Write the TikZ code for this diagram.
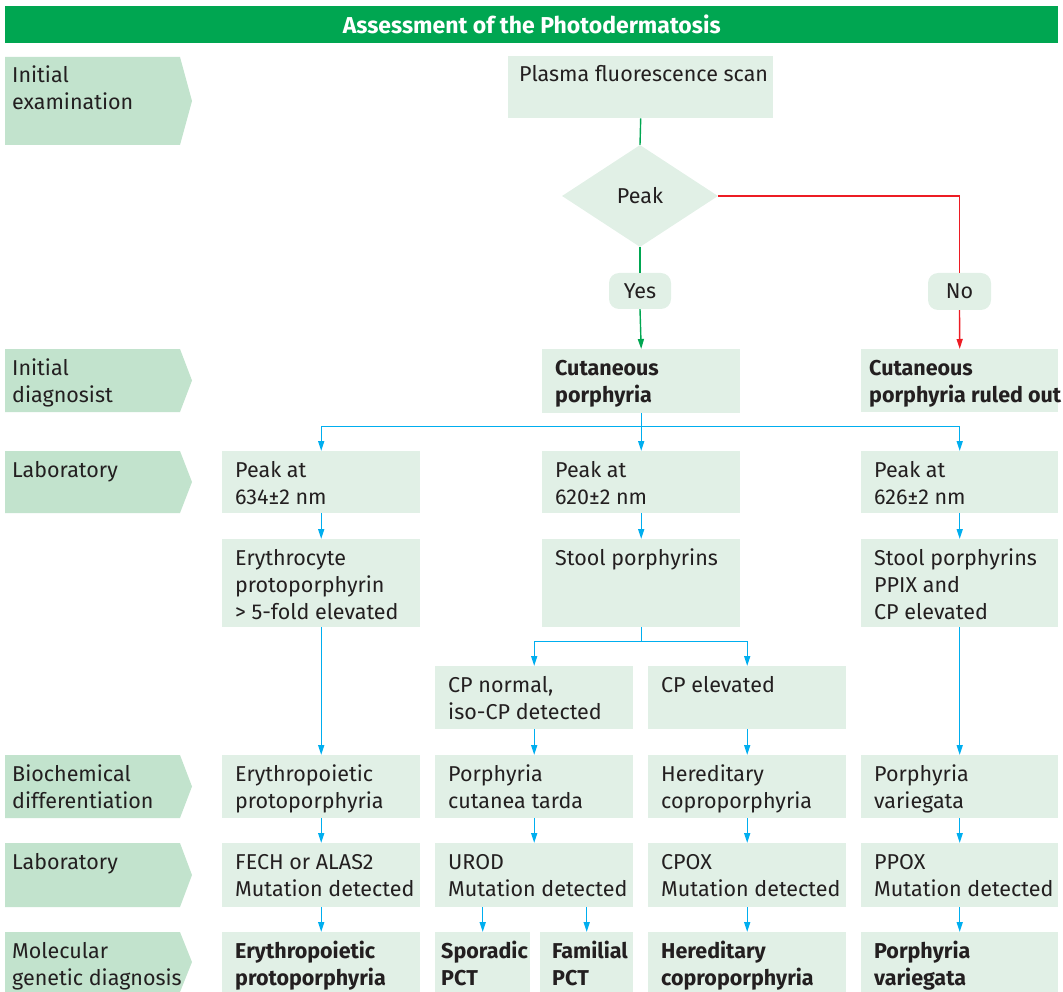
\documentclass[tikz,border=0pt]{standalone}
\usepackage{fontspec}
\setmainfont{Fira Sans}
\usetikzlibrary{arrows.meta,calc,shapes.geometric}

\definecolor{titlegreen}{HTML}{00A651}
\definecolor{stagefill}{HTML}{C2E3CD}
\definecolor{cellfill}{HTML}{E1F0E6}
\definecolor{ink}{HTML}{231F20}
\definecolor{nored}{HTML}{ED1C24}
\definecolor{flowblue}{HTML}{00AEEF}

\tikzset{
  body/.style={font=\fontsize{21.5}{27}\selectfont, text=ink},
  celltext/.style={body, inner sep=0pt, anchor=base west},
  cell/.style={fill=cellfill, draw=none, inner sep=0pt, anchor=north west},
  link/.style={line width=1.4pt},
  tip/.style={-{Triangle[length=10pt,width=6pt]}},
}

% left-aligned lines whose baseline is the first line
\newcommand\lines[1]{\begin{tabular}[t]{@{}l@{}}#1\end{tabular}}

% stage label on the left: name, top, bottom, text
\newcommand\stagelabel[4]{%
  \fill[stagefill] (5,#2) -- (180,#2) -- (192,{(#2+#3)/2}) -- (180,#3) -- (5,#3) -- cycle;
  \node[celltext] (#1) at (12,{#2+26}) {\lines{#4}};
}
% flow cell: [text inset] name, left, top, right, bottom, text
\newcommand\cellbox[7][13]{%
  \node[cell, minimum width={(#5-#3)*1pt}, minimum height={(#6-#4)*1pt}] (#2) at (#3,#4) {};
  \node[celltext] (#2-text) at ({#3+#1},{#4+26}) {\lines{#7}};
}

\begin{document}
\begin{tikzpicture}[x=1pt,y=-1pt]
\useasboundingbox (0,0) rectangle (1063,992);

% title bar
\node[fill=titlegreen, minimum width=1053pt, minimum height=37pt, anchor=north west,
      inner sep=0pt, text=white, font=\fontsize{23}{27}\selectfont\bfseries]
  (title) at (5,6) {Assessment of the Photodermatosis};

% stages
\stagelabel{st1}{57}{145}{Initial\\examination}
\stagelabel{st2}{349}{412}{Initial\\diagnosist}
\stagelabel{st3}{451}{513}{Laboratory}
\stagelabel{st4}{755}{818}{Biochemical\\differentiation}
\stagelabel{st5}{843}{907}{Laboratory}
\stagelabel{st6}{932}{992}{Molecular\\genetic diagnosis}

% initial examination
\cellbox[11]{plasma}{508}{56}{773}{118}{Plasma fluorescence scan}
\node[diamond, fill=cellfill, minimum width=156pt, minimum height=102pt, inner sep=0pt, body]
  (peak) at (640,196) {Peak};
\node[fill=cellfill, rounded corners=10pt, minimum width=62pt, minimum height=36pt,
      inner sep=0pt, body] (yes) at (640,291) {Yes};
\node[fill=cellfill, rounded corners=10pt, minimum width=63pt, minimum height=37pt,
      inner sep=0pt, body] (no) at (959.5,291.5) {No};

% initial diagnosis
\cellbox{cutp}{542}{349}{740}{413}{\textbf{Cutaneous}\\\textbf{porphyria}}
\cellbox[8]{ruled}{861}{349}{1058}{412}{\textbf{Cutaneous}\\\textbf{porphyria ruled out}}

% laboratory
\cellbox{pkA}{222}{451}{420}{513}{Peak at\\634±2 nm}
\cellbox{pkB}{542}{451}{740}{513}{Peak at\\620±2 nm}
\cellbox{pkC}{861}{451}{1058}{513}{Peak at\\626±2 nm}
\cellbox{erA}{222}{539}{420}{627}{Erythrocyte\\protoporphyrin\\> 5-fold elevated}
\cellbox{stB}{542}{539}{740}{627}{Stool porphyrins}
\cellbox{stC}{861}{539}{1058}{627}{Stool porphyrins\\PPIX and\\CP elevated}
\cellbox{cpN}{435}{666}{633}{729}{CP normal,\\iso-CP detected}
\cellbox{cpE}{648}{666}{846}{729}{CP elevated}

% biochemical differentiation
\cellbox{eppA}{222}{755}{420}{818}{Erythropoietic\\protoporphyria}
\cellbox{pct}{435}{755}{633}{818}{Porphyria\\cutanea tarda}
\cellbox{hcpA}{648}{755}{846}{818}{Hereditary\\coproporphyria}
\cellbox{pvA}{861}{755}{1058}{818}{Porphyria\\variegata}

% mutation analysis
\cellbox{fech}{222}{843}{420}{907}{FECH or ALAS2\\Mutation detected}
\cellbox{urod}{435}{843}{633}{907}{UROD\\Mutation detected}
\cellbox{cpox}{648}{843}{846}{907}{CPOX\\Mutation detected}
\cellbox{ppox}{861}{843}{1058}{907}{PPOX\\Mutation detected}

% molecular genetic diagnosis
\cellbox{eppB}{222}{932}{420}{992}{\textbf{Erythropoietic}\\\textbf{protoporphyria}}
\cellbox[6]{spor}{435}{932}{530}{992}{\textbf{Sporadic}\\\textbf{PCT}}
\cellbox[12]{fam}{540}{932}{633}{992}{\textbf{Familial}\\\textbf{PCT}}
\cellbox{hcpB}{648}{932}{846}{992}{\textbf{Hereditary}\\\textbf{coproporphyria}}
\cellbox{pvB}{861}{932}{1058}{992}{\textbf{Porphyria}\\\textbf{variegata}}

% decision connectors
\draw[link, titlegreen] (plasma.south) -- (peak.north);
\draw[link, titlegreen] (peak.south) -- (yes.north);
\draw[link, titlegreen, tip] (yes.south) -- (cutp.north);
\draw[link, nored] (peak.east) -| (no.north);
\draw[link, nored, tip] (no.south) -- (ruled.north);

% spectral peak branches
\coordinate (split1) at ($(cutp.south)+(0,13)$);
\draw[link, flowblue] (cutp.south) -- (split1);
\draw[link, flowblue, tip] (split1) -| (pkA.north);
\draw[link, flowblue, tip] (split1) -| (pkC.north);
\draw[link, flowblue, tip] (split1) -- (pkB.north);

\draw[link, flowblue, tip] (pkA.south) -- (erA.north);
\draw[link, flowblue, tip] (pkB.south) -- (stB.north);
\draw[link, flowblue, tip] (pkC.south) -- (stC.north);

\coordinate (split2) at ($(stB.south)+(0,14)$);
\draw[link, flowblue] (stB.south) -- (split2);
\draw[link, flowblue, tip] (split2) -| (cpN.north);
\draw[link, flowblue, tip] (split2) -| (cpE.north);

\draw[link, flowblue, tip] (erA.south) -- (eppA.north);
\draw[link, flowblue, tip] (cpN.south) -- (pct.north);
\draw[link, flowblue, tip] (cpE.south) -- (hcpA.north);
\draw[link, flowblue, tip] (stC.south) -- (pvA.north);

\draw[link, flowblue, tip] (eppA.south) -- (fech.north);
\draw[link, flowblue, tip] (pct.south) -- (urod.north);
\draw[link, flowblue, tip] (hcpA.south) -- (cpox.north);
\draw[link, flowblue, tip] (pvA.south) -- (ppox.north);

\draw[link, flowblue, tip] (fech.south) -- (eppB.north);
\draw[link, flowblue, tip] (urod.south -| spor.north) -- (spor.north);
\draw[link, flowblue, tip] (urod.south -| fam.north) -- (fam.north);
\draw[link, flowblue, tip] (cpox.south) -- (hcpB.north);
\draw[link, flowblue, tip] (ppox.south) -- (pvB.north);
\end{tikzpicture}
\end{document}
